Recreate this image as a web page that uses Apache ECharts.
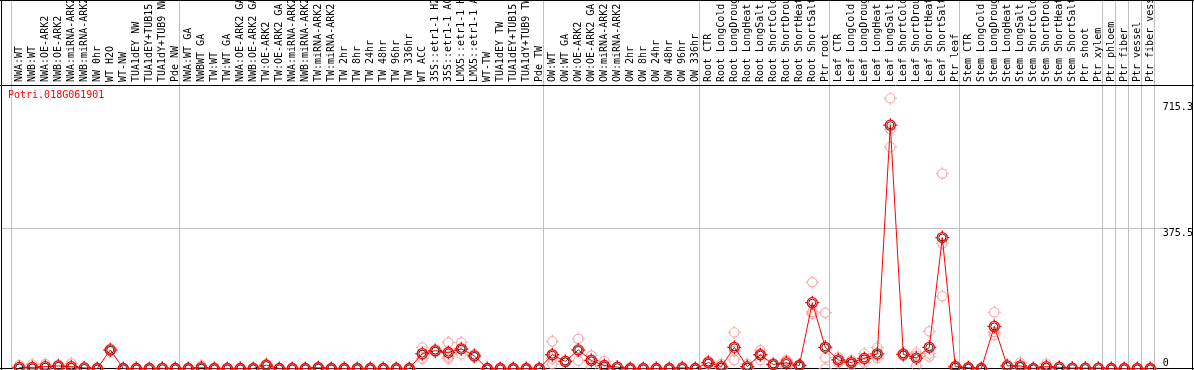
<!DOCTYPE html>
<html><head><meta charset="utf-8">
<script src="https://cdn.jsdelivr.net/npm/echarts@6/dist/echarts.min.js"></script>
<style>html,body{margin:0;padding:0;background:#fff}#c{width:1194px;height:370px}</style>
</head><body><div id="c"></div>
<script>
const geneId = 'Potri.018G061901';
const categories = [
  'NWA:WT','NWB:WT','NWA:OE-ARK2','NWB:OE-ARK2','NWA:miRNA-ARK2','NWB:miRNA-ARK2','NW 0hr','WT H2O','WT-NW','TUA1dEY NW','TUA1dEY+TUB15 NW','TUA1dY+TUB9 NW','Pde NW',
  'NWA:WT GA','NWBWT GA','TW:WT','TW:WT GA','NWA:OE-ARK2 GA','NWB:OE-ARK2 GA','TW:OE-ARK2','TW:OE-ARK2 GA','NWA:miRNA-ARK2 GA','NWB:miRNA-ARK2 GA','TW:miRNA-ARK2','TW:miRNA-ARK2 GA',
  'TW 2hr','TW 8hr','TW 24hr','TW 48hr','TW 96hr','TW 336hr','WT ACC','35S::etr1-1 H2O','35S::etr1-1 ACC','LMX5::etr1-1 H2O','LMX5::etr1-1 ACC','WT-TW','TUA1dEY TW','TUA1dEY+TUB15 TW','TUA1dY+TUB9 TW','Pde TW',
  'OW:WT','OW:WT GA','OW:OE-ARK2','OW:OE-ARK2 GA','OW:miRNA-ARK2','OW:miRNA-ARK2 GA','OW 2hr','OW 8hr','OW 24hr','OW 48hr','OW 96hr','OW 336hr',
  'Root CTR','Root LongCold','Root LongDrought','Root LongHeat','Root LongSalt','Root ShortCold','Root ShortDrought','Root ShortHeat','Root ShortSalt','Ptr root',
  'Leaf CTR','Leaf LongCold','Leaf LongDrought','Leaf LongHeat','Leaf LongSalt','Leaf ShortCold','Leaf ShortDrought','Leaf ShortHeat','Leaf ShortSalt','Ptr leaf',
  'Stem CTR','Stem LongCold','Stem LongDrought','Stem LongHeat','Stem LongSalt','Stem ShortCold','Stem ShortDrought','Stem ShortHeat','Stem ShortSalt','Ptr shoot','Ptr xylem',
  'Ptr phloem','Ptr fiber','Ptr vessel','Ptr fiber vessel'
];
// number of categories in each block separated by a grey rule
const groupSizes = [13, 28, 12, 10, 10, 11, 1, 1, 1, 1];

const meanValues = [
  3, 3, 5, 7, 5, 1.5, 0, 50, 0, 0, 0, 0.5, 0,
  0, 2, 0, 0, 0, 0, 9, 0, 0, 0, 2, 0, 0, 0, 0, 0, 0, 0, 40, 48, 43, 53, 34, 0, 0, 0, 0, 0,
  37, 19, 50, 21.5, 8, 3.5, 0, 0, 0, 0, 1.5, 0,
  16, 5, 57, 5, 37, 11, 15, 8, 177, 57,
  23, 16, 27, 39.5, 654, 38, 28, 57, 352, 5,
  2, 0, 113, 7, 7, 0, 5, 3, 1, 1, 1,
  0, 0, 0, 0
];
const rep1 = [
  9, 11, 12, 10, 14, 3, 0, 54, 0, 0, 0, 1, 0,
  0, 8, 0, 0, 0, 0, 12, 0, 0, 0, 4, 0, 0, 0, 0, 0, 0, 0, 56, 52, 70, 70, 38, 0, 0, 0, 0, 0,
  73, 21, 80, 35, 20, 4, 0, 0, 0, 0, 4, 0,
  20, 12, 97, 12, 49, 14, 23, 10, 232, 150,
  30, 22, 40, 56, 726, 42, 42, 100, 524, 8,
  4, 0, 151, 11, 16, 0, 13, 5, 2, 2, 2,
  0, 0, 0, 0
];
const rep2 = [
  0, 0, 2, 6, 1, 1, 0, 48, 0, 0, 0, 0.5, 0,
  0, 0, 0, 0, 0, 0, 8, 0, 0, 0, 1, 0, 0, 0, 0, 0, 0, 0, 37, 47, 32, 52, 34, 0, 0, 0, 0, 0,
  27, 18, 48, 25, 4, 3, 0, 0, 0, 0, 0.5, 0,
  16, 3, 47, 3, 38, 10, 20, 8, 152, 29,
  23, 16, 25, 35, 643, 38, 35, 40, 336, 5,
  2, 0, 98, 7, 4, 0, 2, 3, 1, 1, 1,
  0, 0, 0, 0
];
const rep3 = [
  0, 0, 1, 5, 0, 0.5, 0, 48, 0, 0, 0, 0, 0,
  0, 0, 0, 0, 0, 0, 7, 0, 0, 0, 1, 0, 0, 0, 0, 0, 0, 0, 27, 44, 27, 38, 30, 0, 0, 0, 0, 0,
  12, 18, 21, 4, 0, 3, 0, 0, 0, 0, 0, 0,
  12, 0, 23, 0, 23, 9, 2, 6, 147, 0,
  16, 10, 16, 28, 595, 34, 7, 32, 194, 3,
  0, 0, 90, 3, 1, 0, 0, 1, 0, 0, 0,
  0, 0, 0, 0
];
const yTicks = [0, 375.5, 715.3];
const yMax = 762;

const FONT = "'DejaVu Sans Mono', monospace";
const chart = echarts.init(document.getElementById('c'), null, {renderer: 'canvas'});
const repColor = '#f09a9a';
// ring with four small outward ticks
const ringSymbol = 'path://M2,7A5,5 0 1,1 12,7A5,5 0 1,1 2,7Z M7,0L7,2 M7,12L7,14 M0,7L2,7 M12,7L14,7';
chart.setOption({
  animation: false,
  backgroundColor: '#fff',
  title: {text: geneId, left: 8, top: 90, padding: 0,
    textStyle: {color: '#ff0000', fontFamily: FONT, fontSize: 10, fontWeight: 'normal'}},
  grid: {left: 12.8, right: 37.2, top: 85, bottom: 1.5, containLabel: false, outerBoundsMode: 'none'},
  xAxis: {type: 'category', position: 'top', data: categories, boundaryGap: true,
    axisLine: {show: false}, axisTick: {show: false}, splitLine: {show: false},
    axisLabel: {interval: 0, rotate: 90, margin: 3, fontFamily: FONT, fontSize: 10, color: '#000', hideOverlap: false}},
  yAxis: {type: 'value', position: 'right', min: 0, max: yMax,
    axisLine: {show: false}, axisTick: {show: false}, splitLine: {show: false},
    axisLabel: {customValues: yTicks, margin: 6, fontFamily: FONT, fontSize: 10, color: '#000',
      verticalAlign: 'top', verticalAlignMinLabel: 'bottom'}},
  series: [
    ...[rep1, rep2, rep3].map(r => ({type: 'scatter', data: r, symbol: ringSymbol, symbolSize: 13,
      itemStyle: {color: 'rgba(0,0,0,0)', borderColor: repColor, borderWidth: 1.2}, z: 2, silent: true})),
    {type: 'line', data: meanValues, symbol: ringSymbol, symbolSize: 14, showAllSymbol: true,
      lineStyle: {color: '#ff0000', width: 1},
      itemStyle: {color: 'rgba(0,0,0,0)', borderColor: '#ff0000', borderWidth: 1.3}, z: 3, silent: true},
    {type: 'scatter', data: meanValues, symbol: 'circle', symbolSize: 7,
      itemStyle: {color: 'rgba(0,0,0,0)', borderColor: '#000', borderWidth: 1}, z: 4, silent: true}
  ]
});

// rules derived from the axes
const px0 = chart.convertToPixel({xAxisIndex: 0}, 0);
const bw = chart.convertToPixel({xAxisIndex: 0}, 1) - px0;
const colOffset = 8.3;
const bounds = [0];
groupSizes.forEach(s => bounds.push(bounds[bounds.length - 1] + s));
const W = 1194;
const axisY = Math.floor(chart.convertToPixel({yAxisIndex: 0}, 0)) + 0.5;
const topY = 85.5;
const gray = '#c0c0c0';
const g = [];
bounds.forEach(k => {
  const x = Math.floor(px0 - colOffset + k * bw) + 0.5;
  g.push({type: 'line', shape: {x1: x, y1: 0, x2: x, y2: axisY}, style: {stroke: gray, lineWidth: 1}, z: 0, silent: true});
});
const gy = Math.floor(chart.convertToPixel({yAxisIndex: 0}, yTicks[1])) + 0.5;
g.push({type: 'line', shape: {x1: 2, y1: gy, x2: 1163, y2: gy}, style: {stroke: gray, lineWidth: 1}, z: 0, silent: true});
const black = (x1, y1, x2, y2) => ({type: 'line', shape: {x1, y1, x2, y2}, style: {stroke: '#000', lineWidth: 1}, z: 1, silent: true});
g.push(black(0, 0.5, W, 0.5));
g.push(black(0, topY, W, topY));
g.push(black(0, axisY, W, axisY));
g.push(black(1.5, 0, 1.5, 370));
g.push(black(1192.5, 0, 1192.5, 370));
chart.setOption({graphic: g});
</script>
</body></html>
